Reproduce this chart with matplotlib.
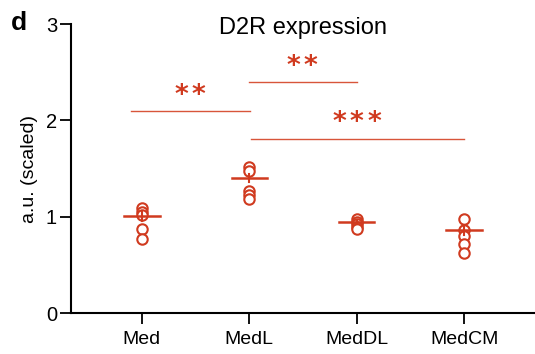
import matplotlib
matplotlib.use("Agg")
import matplotlib.pyplot as plt
import numpy as np

plt.rcParams['font.family'] = ['Liberation Sans', 'DejaVu Sans']

categories = ["Med", "MedL", "MedDL", "MedCM"]
med = [1.09, 1.05, 1.02, 0.87, 0.77]
medl = [1.52, 1.48, 1.27, 1.23, 1.19]
meddl = [0.98, 0.95, 0.93, 0.90, 0.87]
medcm = [0.98, 0.86, 0.80, 0.72, 0.63]
series = [med, medl, meddl, medcm]
means = [1.01, 1.40, 0.95, 0.86]
sems = [0.05, 0.04, 0.02, 0.05]

# significance brackets
sig_x0 = [-0.10, 1.0, 1.02]
sig_x1 = [1.01, 2.0, 3.0]
sig_y = [2.10, 2.40, 1.81]
sig_stars = [2, 2, 3]
sig_label_x = [0.45, 1.49, 2.0]
sig_label_y = [2.29, 2.59, 2.00]

red = '#d03a1f'

fig = plt.figure(figsize=(5.35, 3.54), dpi=100)
ax = fig.add_axes([0.1327, 0.115, 0.8673, 0.817])

for i, vals in enumerate(series):
    ax.plot([i] * len(vals), vals, 'o', mfc='white', mec=red, mew=1.5,
            ms=7.5, zorder=3, clip_on=False)
    ax.plot([i - 0.165, i + 0.165], [means[i], means[i]], color=red, lw=1.8, zorder=4)
    ax.plot([i, i], [means[i] - sems[i], means[i] + sems[i]], color=red, lw=1.5, zorder=4)

spacing_pt = 12.5
for x0, x1, y, n, lx, ly in zip(sig_x0, sig_x1, sig_y, sig_stars, sig_label_x, sig_label_y):
    ax.plot([x0, x1], [y, y], color='#d8553a', lw=1.0)
    for k in range(n):
        off = (k - (n - 1) / 2) * spacing_pt
        ax.annotate("*", xy=(lx, ly), xytext=(off, 0), textcoords='offset points',
                    color=red, fontsize=19, ha='center', va='center_baseline',
                    fontweight='bold', family='DejaVu Sans')

ax.set_xlim(-0.66, 3.66)
ax.set_ylim(0, 3)
ax.set_yticks([0, 1, 2, 3])
ax.set_xticks(range(len(categories)))
ax.set_xticklabels(categories, fontsize=14)
ax.tick_params(axis='y', labelsize=14.5, length=8, width=1.3, pad=2)
ax.tick_params(axis='x', length=8, width=1.3, pad=5)
for s in ['top', 'right']:
    ax.spines[s].set_visible(False)
for s in ['left', 'bottom']:
    ax.spines[s].set_linewidth(1.5)
ax.set_ylabel("a.u. (scaled)", fontsize=14, labelpad=6)
ax.set_title("D2R expression", fontsize=17, y=1.0, pad=-7)
fig.text(0.036, 0.935, "d", fontsize=19, fontweight='bold', va='center', ha='center')

fig.savefig("out.png", dpi=100)
